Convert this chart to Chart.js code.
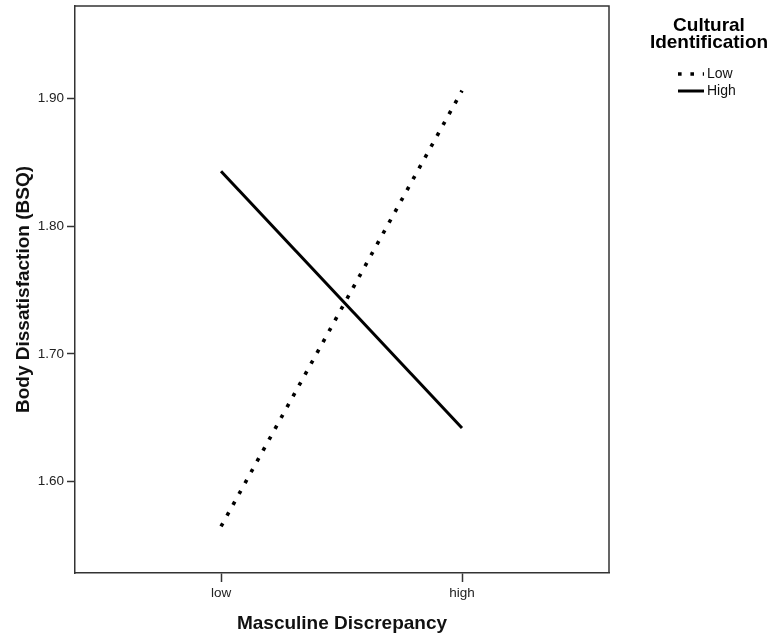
<!DOCTYPE html>
<html>
<head>
<meta charset="utf-8">
<script src="https://cdn.jsdelivr.net/npm/chart.js@4/dist/chart.umd.min.js"></script>
<style>
  html, body { margin: 0; padding: 0; background: #fff; }
  #wrap { width: 774px; height: 643px; }
</style>
</head>
<body>
<div id="wrap"><canvas id="c" width="774" height="643"></canvas></div>
<script>
// ---- data ----
const categories = ["low", "high"];
const seriesNames = ["Low", "High"];
const lowValues = [1.565, 1.906];
const highValues = [1.843, 1.642];
const yTickValues = [1.60, 1.70, 1.80, 1.90];
const xAxisTitle = "Masculine Discrepancy";
const yAxisTitle = "Body Dissatisfaction (BSQ)";
const legendTitle = ["Cultural", "Identification"];

const toPoints = vals => vals.map((v, i) => ({ x: i, y: v }));

const LINE_COLOR = "#000";
const AXIS_COLOR = "#333";
const DOT_DASH = [3.6, 8.8];

const boxPlugin = {
  id: "boxPlugin",
  afterDraw(chart) {
    const { ctx, chartArea: a } = chart;
    ctx.save();
    ctx.strokeStyle = AXIS_COLOR;
    ctx.lineWidth = 1.5;
    ctx.beginPath();
    ctx.moveTo(a.left, a.top);
    ctx.lineTo(a.right, a.top);
    ctx.lineTo(a.right, a.bottom);
    ctx.stroke();
    ctx.restore();
  }
};

const legendPlugin = {
  id: "customLegend",
  afterDraw(chart) {
    const ctx = chart.ctx;
    ctx.save();
    ctx.fillStyle = "#000";
    ctx.font = "bold 19px 'Liberation Sans', Arial, sans-serif";
    ctx.textAlign = "center";
    ctx.textBaseline = "alphabetic";
    ctx.fillText(legendTitle[0], 709, 31);
    ctx.fillText(legendTitle[1], 709, 48);
    const rows = [74, 91];
    chart.data.datasets.forEach((ds, i) => {
      const y = rows[i];
      ctx.beginPath();
      ctx.strokeStyle = ds.borderColor;
      ctx.lineWidth = ds.borderWidth;
      ctx.lineCap = "butt";
      ctx.setLineDash(ds.borderDash || []);
      ctx.moveTo(678, y);
      ctx.lineTo(704, y);
      ctx.stroke();
      ctx.setLineDash([]);
      ctx.fillStyle = "#111";
      ctx.font = "14px 'Liberation Sans', Arial, sans-serif";
      ctx.textAlign = "left";
      ctx.textBaseline = "middle";
      ctx.fillText(ds.label, 707, y + 0.5);
    });
    ctx.restore();
  }
};

new Chart(document.getElementById("c"), {
  type: "line",
  data: {
    datasets: [
      {
        label: seriesNames[0],
        data: toPoints(lowValues),
        borderColor: LINE_COLOR,
        borderWidth: 3.6,
        borderDash: DOT_DASH,
        borderCapStyle: "butt",
        pointRadius: 0,
        fill: false,
        tension: 0
      },
      {
        label: seriesNames[1],
        data: toPoints(highValues),
        borderColor: LINE_COLOR,
        borderWidth: 3,
        borderCapStyle: "butt",
        pointRadius: 0,
        fill: false,
        tension: 0
      }
    ]
  },
  options: {
    responsive: false,
    animation: false,
    devicePixelRatio: 1,
    layout: { padding: { left: 0, top: 6, right: 165, bottom: 0 } },
    plugins: { legend: { display: false }, tooltip: { enabled: false } },
    scales: {
      x: {
        type: "linear",
        min: -0.606,
        max: 1.61,
        afterFit(s) { s.height = 70; s.paddingLeft = 0; s.paddingRight = 0; },
        afterBuildTicks(s) { s.ticks = categories.map((c, i) => ({ value: i })); },
        ticks: {
          autoSkip: false,
          maxRotation: 0,
          padding: 3,
          color: "#222",
          font: { family: "'Liberation Sans', Arial, sans-serif", size: 13.5 },
          callback: v => categories[v]
        },
        grid: {
          drawOnChartArea: false,
          drawTicks: true,
          tickLength: 9,
          tickWidth: 1.5,
          tickColor: AXIS_COLOR
        },
        border: { display: true, color: AXIS_COLOR, width: 1.5 },
        title: {
          display: true,
          text: xAxisTitle,
          color: "#111",
          font: { family: "'Liberation Sans', Arial, sans-serif", size: 19, weight: "bold" },
          padding: { top: 0, bottom: 7.6 }
        }
      },
      y: {
        type: "linear",
        min: 1.5286,
        max: 1.9723,
        afterFit(s) { s.width = 75; s.paddingTop = 0; s.paddingBottom = 0; },
        afterBuildTicks(s) { s.ticks = yTickValues.map(v => ({ value: v })); },
        ticks: {
          padding: 3,
          color: "#222",
          font: { family: "'Liberation Sans', Arial, sans-serif", size: 13.5 },
          callback: v => Number(v).toFixed(2)
        },
        grid: {
          drawOnChartArea: false,
          drawTicks: true,
          tickLength: 8,
          tickWidth: 1.5,
          tickColor: AXIS_COLOR
        },
        border: { display: true, color: AXIS_COLOR, width: 1.5 },
        title: {
          display: true,
          text: yAxisTitle,
          color: "#111",
          font: { family: "'Liberation Sans', Arial, sans-serif", size: 19, weight: "bold" },
          padding: { top: 12, bottom: 0 }
        }
      }
    }
  },
  plugins: [boxPlugin, legendPlugin]
});
</script>
</body>
</html>
